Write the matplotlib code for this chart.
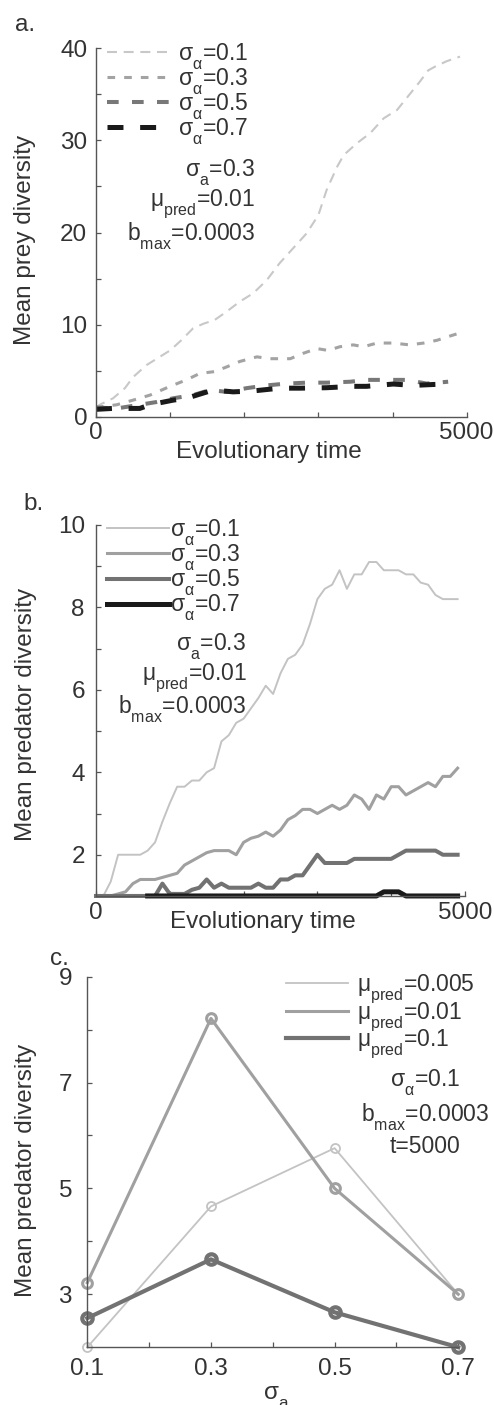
import numpy as np
import matplotlib
matplotlib.use("Agg")
import matplotlib.pyplot as plt
import matplotlib._mathtext as mtext
from matplotlib.ticker import MultipleLocator, FixedLocator

# push subscripts further down, like the original figure
mtext.FontConstantsBase.sub1 = 0.75

# panel a: mean prey diversity (smoothed curves)
prey_t_01 = [0, 50, 230, 390, 500, 680, 820, 1000, 1150, 1310, 1450, 1600, 1760, 1940, 2120,
             2300, 2480, 2660, 2840, 3000, 3110, 3250, 3340, 3520, 3700, 3880, 4060, 4210,
             4370, 4480, 4570, 4730, 4910]
prey_y_01 = [1.0, 1.3, 2.0, 3.1, 4.3, 5.6, 6.3, 7.2, 8.3, 9.6, 10.1, 10.5, 11.4, 12.5, 13.4,
             14.8, 16.7, 18.3, 19.9, 21.9, 24.6, 27.1, 28.4, 29.7, 30.8, 32.4, 33.3, 34.8,
             36.4, 37.6, 38.0, 38.6, 39.1]
prey_t_03 = [0, 280, 500, 730, 1000, 1220, 1400, 1600, 1760, 1940, 2170, 2350, 2620, 2800,
             2980, 3130, 3290, 3470, 3610, 3790, 4010, 4230, 4420, 4600, 4750, 4910]
prey_y_03 = [1.0, 1.3, 1.8, 2.35, 3.3, 4.0, 4.7, 4.9, 5.4, 6.0, 6.5, 6.3, 6.3, 6.9,
             7.4, 7.2, 7.6, 7.8, 7.6, 8.0, 8.0, 7.8, 8.0, 8.3, 8.7, 9.1]
prey_t_05 = [0, 280, 590, 820, 1040, 1310, 1540, 1760, 2030, 2300, 2570, 2840, 3110, 3430,
             3650, 3920, 4190, 4460, 4750]
prey_y_05 = [1.0, 0.9, 1.3, 1.6, 2.0, 2.35, 2.9, 2.7, 3.1, 3.4, 3.6, 3.7, 3.7, 3.8,
             4.0, 4.0, 4.0, 3.6, 3.8]
prey_t_07 = [0, 220, 590, 730, 1040, 1220, 1580, 1850, 2120, 2480, 2750, 3110, 3470, 3650,
             4010, 4280, 4550, 4750]
prey_y_07 = [0.8, 0.9, 0.9, 1.3, 1.8, 2.0, 2.9, 2.7, 2.8, 3.1, 3.1, 3.15, 3.3, 3.3,
             3.55, 3.4, 3.5, 3.55]

# panel b: mean predator diversity, every 100 time steps
pred_t = np.arange(0, 5000, 100)
pred_01 = [1.0, 1.0, 1.35, 2.0, 2.0, 2.0, 2.0, 2.1, 2.3, 2.8, 3.25, 3.65, 3.65, 3.8, 3.8,
           4.0, 4.1, 4.75, 4.9, 5.2, 5.3, 5.55, 5.8, 6.1, 5.9, 6.4, 6.75, 6.85, 7.1, 7.6,
           8.2, 8.45, 8.55, 8.9, 8.45, 8.8, 8.8, 9.1, 9.1, 8.9, 8.9, 8.9, 8.8, 8.8, 8.6,
           8.55, 8.3, 8.2, 8.2, 8.2]
pred_03 = [1.0, 1.0, 1.0, 1.05, 1.1, 1.3, 1.4, 1.4, 1.4, 1.45, 1.5, 1.55, 1.75, 1.85, 1.95,
           2.05, 2.1, 2.1, 2.1, 2.0, 2.3, 2.4, 2.45, 2.55, 2.45, 2.6, 2.85, 2.95, 3.1, 3.1,
           3.0, 3.1, 3.2, 3.1, 3.2, 3.45, 3.35, 3.1, 3.45, 3.35, 3.65, 3.65, 3.45, 3.55, 3.65,
           3.75, 3.65, 3.9, 3.9, 4.1]
pred_05 = [1.0, 1.0, 1.0, 1.0, 1.0, 1.0, 1.0, 1.0, 1.0, 1.3, 1.05, 1.05, 1.05, 1.15, 1.2,
           1.4, 1.2, 1.3, 1.2, 1.2, 1.2, 1.2, 1.3, 1.2, 1.2, 1.4, 1.4, 1.5, 1.5, 1.75,
           2.0, 1.8, 1.8, 1.8, 1.8, 1.9, 1.9, 1.9, 1.9, 1.9, 1.9, 2.0, 2.1, 2.1, 2.1,
           2.1, 2.1, 2.0, 2.0, 2.0]
pred_07 = [None, None, None, None, None, None, None, 1.0, 1.0, 1.0, 1.0, 1.0, 1.0, 1.0, 1.0,
           1.0, 1.0, 1.0, 1.0, 1.0, 1.0, 1.0, 1.0, 1.0, 1.0, 1.0, 1.0, 1.0, 1.0, 1.0,
           1.0, 1.0, 1.0, 1.0, 1.0, 1.0, 1.0, 1.0, 1.0, 1.1, 1.1, 1.1, 1.0, 1.0, 1.0,
           1.0, 1.0, 1.0, 1.0, 1.0]

# panel c: predator diversity at t=5000 vs sigma_a
sigma_a = [0.1, 0.3, 0.5, 0.7]
mu_0005 = [2.0, 4.66, 5.76, 3.0]
mu_001 = [3.22, 8.21, 5.0, 3.0]
mu_01 = [2.55, 3.66, 2.66, 2.0]

TXT = "#333333"
plt.rcParams["font.family"] = ["Liberation Sans", "DejaVu Sans"]
plt.rcParams["mathtext.fontset"] = "custom"
plt.rcParams["mathtext.rm"] = "Liberation Sans"
plt.rcParams["text.color"] = TXT
plt.rcParams["lines.scale_dashes"] = False

fig = plt.figure(figsize=(4.94, 14.05), dpi=100)
ax_a = fig.add_axes([0.1943, 0.7034, 0.7504, 0.2622])
ax_b = fig.add_axes([0.1943, 0.3623, 0.7470, 0.2641])
ax_c = fig.add_axes([0.1767, 0.0411, 0.7510, 0.2638])


def style(ax, ypad, xpad):
    for s in ["top", "right"]:
        ax.spines[s].set_visible(False)
    for s in ["left", "bottom"]:
        ax.spines[s].set_color("#555555")
        ax.spines[s].set_linewidth(1.0)
    ax.tick_params(which="both", direction="in", length=3.5, width=0.9,
                   color="#555555", labelcolor=TXT, labelsize=17.5)
    ax.tick_params(axis="y", pad=ypad)
    ax.tick_params(axis="x", pad=xpad)


def sig(v):
    return r"$\mathregular{\sigma_\alpha}$=" + v


# ---- a ----
ax = ax_a
specs_a = [(prey_t_01, prey_y_01, "#c8c8c8", 1.5, (7.2, 4.8), "0.1"),
           (prey_t_03, prey_y_03, "#a3a3a3", 2.2, (5.5, 6.5), "0.3"),
           (prey_t_05, prey_y_05, "#787878", 2.9, (8.4, 9.6), "0.5"),
           (prey_t_07, prey_y_07, "#1a1a1a", 3.6, (11.5, 12.0), "0.7")]
for t, y, c, lw, d, lab in specs_a:
    ax.plot(t, y, color=c, lw=lw, dashes=d, label=sig(lab))
ax.set_xlim(0, 5000)
ax.set_ylim(0, 40)
ax.xaxis.set_major_locator(FixedLocator([0, 5000]))
ax.xaxis.set_minor_locator(FixedLocator([1000, 2000, 3000, 4000]))
ax.yaxis.set_major_locator(MultipleLocator(10))
ax.yaxis.set_minor_locator(MultipleLocator(5))
style(ax, 6.3, 4)
ax.set_xlabel("Evolutionary time", fontsize=17.5, color=TXT)
ax.set_ylabel("Mean prey diversity", fontsize=17.5, color=TXT)
ax.xaxis.set_label_coords(0.467, -0.065)
ax.yaxis.set_label_coords(-0.162, 0.48)
ax.legend(loc="upper left", bbox_to_anchor=(0.03, 1.02), frameon=False, fontsize=16.5,
          handlelength=2.7, handletextpad=0.4, labelspacing=-0.25, borderpad=0, borderaxespad=0)
for txt, yy in [(r"$\mathregular{\sigma_a}$=0.3", 0.6515),
                (r"$\mathregular{\mu_{pred}}$=0.01", 0.570),
                (r"$\mathregular{b_{max}}$=0.0003", 0.4796)]:
    ax.text(0.429, yy, txt, transform=ax.transAxes, ha="right", va="baseline", fontsize=16.5)
fig.text(15 / 494, 1 - 31 / 1405, "a.", fontsize=17.5, va="baseline")

# ---- b ----
ax = ax_b
specs_b = [(pred_01, "#c3c3c3", 1.4, "0.1"),
           (pred_03, "#a0a0a0", 2.2, "0.3"),
           (pred_05, "#727272", 2.9, "0.5"),
           (pred_07, "#1a1a1a", 3.6, "0.7")]
for y, c, lw, lab in specs_b:
    ax.plot(pred_t, np.array(y, dtype=float), color=c, lw=lw, label=sig(lab), clip_on=False)
ax.set_xlim(0, 5000)
ax.set_ylim(1, 10)
ax.xaxis.set_major_locator(FixedLocator([0, 5000]))
ax.xaxis.set_minor_locator(FixedLocator([1000, 2000, 3000, 4000]))
ax.yaxis.set_major_locator(FixedLocator([2, 4, 6, 8, 10]))
ax.yaxis.set_minor_locator(FixedLocator([1, 3, 5, 7, 9]))
style(ax, 8, 4)
ax.set_xlabel("Evolutionary time", fontsize=17.5, color=TXT)
ax.set_ylabel("Mean predator diversity", fontsize=17.5, color=TXT)
ax.xaxis.set_label_coords(0.451, -0.04)
ax.yaxis.set_label_coords(-0.16, 0.488)
ax.legend(loc="upper left", bbox_to_anchor=(0.03, 1.02), frameon=False, fontsize=16.5,
          handlelength=2.7, handletextpad=0.05, labelspacing=-0.25, borderpad=0, borderaxespad=0)
for txt, yy in [(r"$\mathregular{\sigma_a}$=0.3", 0.663),
                (r"$\mathregular{\mu_{pred}}$=0.01", 0.582),
                (r"$\mathregular{b_{max}}$=0.0003", 0.493)]:
    ax.text(0.408, yy, txt, transform=ax.transAxes, ha="right", va="baseline", fontsize=16.5)
fig.text(23 / 494, 1 - 510 / 1405, "b.", fontsize=17.5, va="baseline")

# ---- c ----
ax = ax_c
specs_c = [(mu_0005, "#c3c3c3", 1.3, 6.5, "0.005"),
           (mu_001, "#a0a0a0", 2.2, 7.0, "0.01"),
           (mu_01, "#727272", 3.0, 7.5, "0.1")]
for y, c, lw, ms, lab in specs_c:
    ax.plot(sigma_a, y, color=c, lw=lw, marker="o", ms=ms, mfc="none", mec=c, mew=lw,
            clip_on=False, label=r"$\mathregular{\mu_{pred}}$=" + lab)
ax.set_xlim(0.1, 0.7)
ax.set_ylim(2, 9)
ax.xaxis.set_major_locator(FixedLocator([0.1, 0.3, 0.5, 0.7]))
ax.xaxis.set_minor_locator(FixedLocator([0.2, 0.4, 0.6]))
ax.yaxis.set_major_locator(FixedLocator([3, 5, 7, 9]))
ax.yaxis.set_minor_locator(FixedLocator([2, 4, 6, 8]))
ax.set_xticklabels(["0.1", "0.3", "0.5", "0.7"])
style(ax, 11, 8)
ax.set_xlabel(r"$\mathregular{\sigma_a}$", fontsize=17.5, color=TXT)
ax.set_ylabel("Mean predator diversity", fontsize=17.5, color=TXT)
ax.xaxis.set_label_coords(0.509, -0.10)
ax.yaxis.set_label_coords(-0.136, 0.476)
leg = ax.legend(loc="upper left", bbox_to_anchor=(0.535, 1.01), frameon=False, fontsize=16.5,
                handlelength=2.7, handletextpad=0.4, labelspacing=-0.25, borderpad=0,
                borderaxespad=0)
for h in leg.legend_handles:
    h.set_marker("")
for txt, yy in [(r"$\mathregular{\sigma_\alpha}$=0.1", 0.703),
                (r"$\mathregular{b_{max}}$=0.0003", 0.609),
                ("t=5000", 0.523)]:
    ax.text(0.91, yy, txt, transform=ax.transAxes, ha="center", va="baseline", fontsize=16.5)
fig.text(50 / 494, 1 - 965 / 1405, "c.", fontsize=17.5, va="baseline")

fig.savefig("out.png", dpi=100)
